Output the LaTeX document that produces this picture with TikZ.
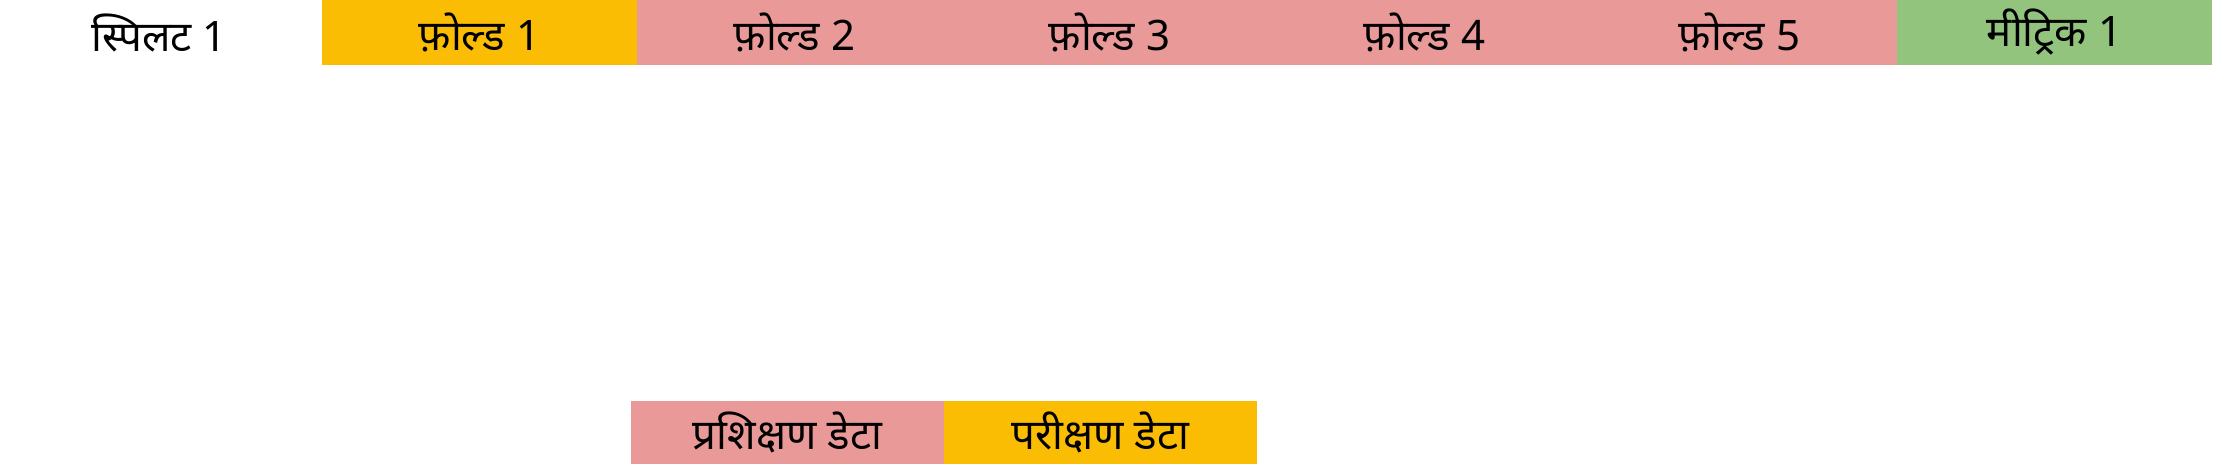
\documentclass[tikz,border=0pt]{standalone}
\usepackage{fontspec}
\usepackage{xcolor}
\usepackage{tikz}
\usetikzlibrary{positioning}

\newfontfamily\hindi[Script=Devanagari]{Noto Sans}

\definecolor{foldyellow}{HTML}{FBBC04}
\definecolor{foldpink}{HTML}{EA9999}
\definecolor{metricgreen}{HTML}{93C47D}

\tikzset{
  cell/.style={minimum width=315, minimum height=65, inner sep=0pt, outer sep=0pt,
    font=\hindi\fontsize{42}{46}\selectfont},
  datacell/.style={cell, minimum width=313, minimum height=63}
}

\begin{document}
\begin{tikzpicture}[x=1pt,y=1pt]
  \useasboundingbox (0,0) rectangle (2220,-464);

  % top row
  \node[cell] (split) at (159,-32.5) {स्पिलट 1};
  \node[cell, fill=foldyellow, anchor=north west] (f1) at (322,0) {फ़ोल्ड 1};
  \node[cell, fill=foldpink, right=0pt of f1] (f2) {फ़ोल्ड 2};
  \node[cell, fill=foldpink, right=0pt of f2] (f3) {फ़ोल्ड 3};
  \node[cell, fill=foldpink, right=0pt of f3] (f4) {फ़ोल्ड 4};
  \node[cell, fill=foldpink, right=0pt of f4] (f5) {फ़ोल्ड 5};
  \node[cell, fill=metricgreen, right=0pt of f5] (m1) {मीट्रिक 1};

  % bottom legend
  \node[datacell, fill=foldpink, anchor=south west] (train) at (631,-464) {प्रशिक्षण डेटा};
  \node[datacell, fill=foldyellow, right=0pt of train] (test) {परीक्षण डेटा};
\end{tikzpicture}
\end{document}
